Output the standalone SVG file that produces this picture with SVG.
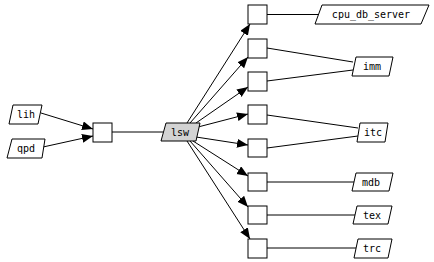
<svg xmlns="http://www.w3.org/2000/svg" width="434" height="262" viewBox="0 0 434 262">
<defs>
<style>
.b{fill:#fff;stroke:#000;stroke-width:1}
.p{fill:#fff;stroke:#000;stroke-width:1}
.g{fill:#d3d3d3;stroke:#000;stroke-width:1}
.t{font-family:"DejaVu Sans Mono","Liberation Mono",monospace;font-size:10px;text-anchor:middle;fill:#000}
.e{stroke:#000;stroke-width:1;fill:none}
.a{stroke:#000;stroke-width:1;fill:none;marker-end:url(#ah)}
</style>
<marker id="ah" markerUnits="userSpaceOnUse" markerWidth="12" markerHeight="10" refX="11" refY="4.5" orient="auto">
<path d="M0,0 L11,4.5 L0,9 Z" fill="#000"/>
</marker>
</defs>
<rect width="434" height="262" fill="#fff"/>
<g id="connectors">
<line class="a" x1="41" y1="113" x2="93" y2="129"/>
<line class="a" x1="43" y1="147" x2="93" y2="136"/>
<line class="e" x1="112" y1="132" x2="163" y2="132"/>
<line class="a" x1="187" y1="123" x2="250" y2="24"/>
<line class="a" x1="190" y1="123" x2="248" y2="57"/>
<line class="a" x1="196" y1="123" x2="248" y2="87"/>
<line class="a" x1="198" y1="127" x2="248" y2="114"/>
<line class="a" x1="196" y1="137" x2="248" y2="145"/>
<line class="a" x1="193" y1="141" x2="248" y2="176"/>
<line class="a" x1="190" y1="141" x2="248" y2="207"/>
<line class="a" x1="187" y1="141" x2="250" y2="239"/>
<line class="e" x1="267" y1="14.5" x2="318" y2="14.5"/>
<line class="e" x1="267" y1="48" x2="353" y2="62"/>
<line class="e" x1="267" y1="81" x2="353" y2="70"/>
<line class="e" x1="267" y1="115" x2="358" y2="128"/>
<line class="e" x1="267" y1="148" x2="358" y2="136"/>
<line class="e" x1="267" y1="182" x2="354" y2="182"/>
<line class="e" x1="267" y1="215" x2="355" y2="215"/>
<line class="e" x1="267" y1="248" x2="356" y2="248"/>
</g>
<g id="lih"><polygon class="p" points="13,105 42,105 38,124 9,124"/><text class="t" x="26" y="118">lih</text></g>
<g id="qpd"><polygon class="p" points="12,139 45,139 42,158 7,158"/><text class="t" x="26" y="152">qpd</text></g>
<g id="n_in"><rect class="b" x="93" y="123" width="19" height="19"/></g>
<g id="lsw"><polygon class="g" points="166,123 200,123 196,141 161,141"/><text class="t" x="180" y="136">lsw</text></g>
<g id="n1"><rect class="b" x="248" y="5" width="19" height="19"/></g>
<g id="n2"><rect class="b" x="248" y="39" width="19" height="19"/></g>
<g id="n3"><rect class="b" x="248" y="72" width="19" height="19"/></g>
<g id="n4"><rect class="b" x="248" y="105" width="19" height="19"/></g>
<g id="n5"><rect class="b" x="248" y="139" width="19" height="18"/></g>
<g id="n6"><rect class="b" x="248" y="173" width="19" height="18"/></g>
<g id="n7"><rect class="b" x="248" y="206" width="19" height="18"/></g>
<g id="n8"><rect class="b" x="248" y="239" width="19" height="19"/></g>
<g id="cpu_db_server"><polygon class="p" points="322,5 429,5 421,24 315,24"/><text class="t" x="371" y="18">cpu_db_server</text></g>
<g id="imm"><polygon class="p" points="356,57 393,57 389,76 352,76"/><text class="t" x="372" y="70">imm</text></g>
<g id="itc"><polygon class="p" points="360,123 388,123 385,142 357,142"/><text class="t" x="373" y="136">itc</text></g>
<g id="mdb"><polygon class="p" points="356,173 393,173 389,191 352,191"/><text class="t" x="371" y="186">mdb</text></g>
<g id="tex"><polygon class="p" points="357,206 392,206 388,224 353,224"/><text class="t" x="372" y="219">tex</text></g>
<g id="trc"><polygon class="p" points="358,239 392,239 388,258 354,258"/><text class="t" x="372" y="252">trc</text></g>
</svg>
